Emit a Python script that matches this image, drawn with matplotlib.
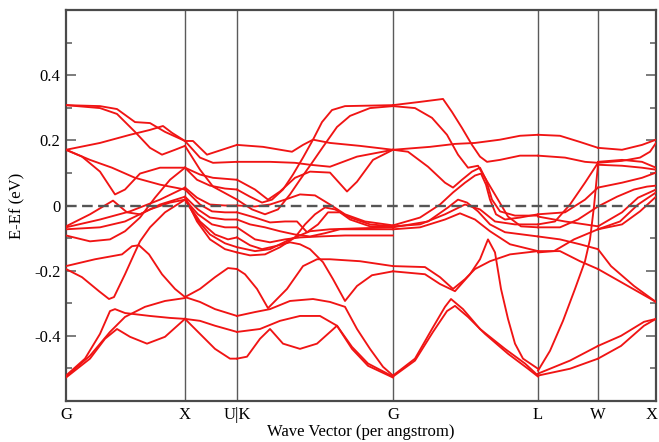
import matplotlib
matplotlib.use("Agg")
import matplotlib.pyplot as plt
from matplotlib.transforms import ScaledTranslation

# ---------------- data ----------------
kpoint_labels = ["G", "X", "U|K", "G", "L", "W", "X"]
kpoint_pos = [0.0, 1.19, 1.71, 3.27, 4.72, 5.32, 5.90]
y_ticks = [-0.4, -0.2, 0.0, 0.2, 0.4]
y_tick_labels = ["-0.4", "-0.2", "0", "0.2", "0.4"]
y_minor = [-0.5, -0.3, -0.1, 0.1, 0.3, 0.5]
fermi_level = 0.0

# Each curve: (k values, energies in eV) along one segment of the path
seg_G_X = [
    ([0, .34, .51, .69, .84, .99, 1.19], [.308, .305, .296, .256, .253, .226, .198]),
    ([0, .34, .51, .69, .84, .96, 1.09, 1.19], [.308, .299, .281, .226, .177, .156, .171, .183]),
    ([0, .34, .64, .84, .97, 1.06, 1.19], [.171, .192, .217, .232, .244, .223, .198]),
    ([0, .16, .34, .49, .59, .74, .94, 1.19], [.171, .150, .104, .034, .049, .098, .116, .116]),
    ([0, .24, .46, .69, .94, 1.19], [.171, .140, .116, .085, .064, .049]),
    ([0, .24, .47, .61, .74, .94, 1.19], [-.064, -.027, .015, -.021, -.027, .003, .027]),
    ([0, .34, .64, .94, 1.19], [-.067, -.043, -.018, .018, .055]),
    ([0, .34, .59, .84, 1.04, 1.19], [-.073, -.067, -.049, -.012, .009, .018]),
    ([0, .24, .44, .59, .74, .89, 1.04, 1.19], [-.092, -.110, -.104, -.079, -.037, .024, .079, .116]),
    ([0, .29, .56, .66, .73, .83, .96, 1.09, 1.19], [-.186, -.165, -.150, -.125, -.122, -.150, -.211, -.256, -.281]),
    ([0, .16, .33, .43, .48, .59, .68, .74, .84, .99, 1.19], [-.195, -.220, -.263, -.287, -.281, -.211, -.150, -.110, -.067, -.021, .018]),
    ([0, .19, .34, .44, .49, .59, .84, 1.04, 1.19], [-.522, -.470, -.394, -.324, -.318, -.330, -.339, -.345, -.348]),
    ([0, .24, .44, .59, .79, .99, 1.19], [-.525, -.461, -.388, -.342, -.311, -.293, -.284]),
    ([0, .24, .39, .51, .64, .81, .99, 1.19], [-.528, -.470, -.409, -.379, -.403, -.424, -.403, -.348]),
]

seg_X_UK = [
    ([1.19, 1.27, 1.41, 1.56, 1.71], [.198, .198, .156, .171, .186]),
    ([1.19, 1.34, 1.47, 1.71], [.198, .147, .131, .134]),
    ([1.19, 1.34, 1.47, 1.71], [.183, .110, .058, .018]),
    ([1.19, 1.31, 1.44, 1.59, 1.71], [.116, .079, .061, .052, .049]),
    ([1.19, 1.34, 1.47, 1.71], [.116, .095, .085, .079]),
    ([1.19, 1.31, 1.44, 1.59, 1.71], [.055, .024, .003, 0.0, 0.0]),
    ([1.19, 1.34, 1.46, 1.59, 1.71], [.049, .003, -.018, -.021, -.021]),
    ([1.19, 1.32, 1.44, 1.59, 1.71], [.027, -.012, -.037, -.043, -.043]),
    ([1.19, 1.32, 1.46, 1.59, 1.71], [.018, -.027, -.058, -.067, -.067]),
    ([1.19, 1.34, 1.49, 1.62, 1.71], [.018, -.049, -.089, -.104, -.098]),
    ([1.19, 1.31, 1.44, 1.59, 1.71], [.018, -.043, -.089, -.116, -.128]),
    ([1.19, 1.31, 1.44, 1.59, 1.71], [.027, -.049, -.104, -.134, -.144]),
    ([1.19, 1.34, 1.49, 1.62, 1.71], [-.281, -.256, -.220, -.192, -.195]),
    ([1.19, 1.34, 1.49, 1.71], [-.281, -.296, -.318, -.339]),
    ([1.19, 1.34, 1.49, 1.71], [-.348, -.354, -.369, -.388]),
    ([1.19, 1.34, 1.49, 1.64, 1.71], [-.348, -.394, -.440, -.470, -.470]),
]

seg_K_G = [
    ([1.71, 1.97, 2.26, 2.37, 2.47, 2.64, 2.94, 3.27], [.186, .180, .165, .186, .202, .192, .183, .171]),
    ([1.71, 2.04, 2.29, 2.44, 2.64, 2.91, 3.27], [.134, .134, .131, .125, .119, .150, .171]),
    ([1.71, 1.89, 2.02, 2.14, 2.29, 2.44, 2.64, 2.81, 2.91, 3.07, 3.27],
     [.079, .049, .018, .043, .085, .104, .101, .043, .073, .140, .171]),
    ([1.71, 1.84, 1.96, 2.06, 2.17, 2.27, 2.37, 2.47, 2.56, 2.66, 2.79, 3.27],
     [.049, .027, .009, .018, .049, .095, .147, .202, .256, .293, .305, .308]),
    ([1.71, 1.86, 1.99, 2.12, 2.24, 2.34, 2.46, 2.57, 2.71, 2.84, 3.04, 3.27],
     [.018, -.012, -.027, -.012, .034, .079, .131, .180, .241, .275, .299, .305]),
    ([1.71, 1.89, 2.04, 2.19, 2.34, 2.49, 2.64, 2.79, 2.99, 3.27],
     [0.0, -.003, .003, .018, .034, .031, .003, -.027, -.049, -.061]),
    ([1.71, 1.89, 2.04, 2.19, 2.31, 2.41, 2.52, 2.62, 2.74, 2.84, 3.04, 3.27],
     [-.021, -.037, -.052, -.049, -.049, -.082, -.058, -.021, -.021, -.043, -.064, -.067]),
    ([1.71, 1.84, 1.99, 2.14, 2.29, 2.44, 2.59, 2.74, 2.94, 3.27],
     [-.043, -.058, -.067, -.079, -.089, -.095, -.085, -.073, -.073, -.073]),
    ([1.71, 1.89, 2.04, 2.19, 2.34, 2.54, 2.79, 3.04, 3.27],
     [-.067, -.104, -.113, -.104, -.098, -.095, -.092, -.092, -.092]),
    ([1.71, 1.84, 1.96, 2.09, 2.24, 2.34, 2.44, 2.57, 2.67, 2.79, 2.91, 3.06, 3.27],
     [-.098, -.122, -.134, -.125, -.113, -.119, -.134, -.174, -.226, -.293, -.247, -.214, -.202]),
    ([1.71, 1.89, 2.04, 2.24, 2.44, 2.64, 2.94, 3.27], [-.128, -.140, -.134, -.104, -.079, -.073, -.070, -.067]),
    ([1.71, 1.84, 1.99, 2.14, 2.29, 2.39, 2.49, 2.59, 2.69, 2.84, 3.04, 3.27],
     [-.144, -.153, -.150, -.128, -.098, -.058, -.027, -.006, -.012, -.037, -.058, -.064]),
    ([1.71, 1.79, 1.91, 2.02, 2.21, 2.37, 2.51, 2.64, 2.94, 3.27],
     [-.195, -.211, -.256, -.315, -.256, -.186, -.165, -.165, -.171, -.186]),
    ([1.71, 1.89, 2.04, 2.24, 2.47, 2.64, 2.79, 2.91, 3.04, 3.17, 3.27],
     [-.339, -.327, -.318, -.293, -.287, -.296, -.311, -.379, -.440, -.495, -.522]),
    ([1.71, 1.94, 2.14, 2.34, 2.54, 2.71, 2.86, 3.02, 3.27],
     [-.388, -.379, -.354, -.339, -.339, -.369, -.434, -.485, -.525]),
    ([1.71, 1.81, 1.94, 2.04, 2.17, 2.34, 2.51, 2.71, 2.86, 3.02, 3.27],
     [-.470, -.464, -.409, -.379, -.424, -.440, -.424, -.369, -.440, -.492, -.528]),
]

seg_G_L = [
    ([3.27, 3.54, 3.77, 3.86, 3.96, 4.06, 4.14, 4.21, 4.34, 4.54, 4.72],
     [.308, .318, .327, .287, .238, .186, .150, .134, .140, .153, .153]),
    ([3.27, 3.49, 3.66, 3.81, 3.92, 4.02, 4.12, 4.19, 4.32, 4.42, 4.55, 4.72],
     [.305, .299, .269, .217, .156, .116, .122, .085, .018, -.034, -.064, -.067]),
    ([3.27, 3.64, 3.89, 4.09, 4.34, 4.54, 4.72], [.171, .180, .189, .192, .202, .214, .217]),
    ([3.27, 3.42, 3.62, 3.79, 3.87, 3.96, 4.06, 4.14, 4.20, 4.26, 4.34, 4.49, 4.72],
     [.171, .165, .119, .070, .055, .079, .104, .116, .079, .018, -.018, -.031, -.031]),
    ([3.27, 3.54, 3.74, 3.87, 3.99, 4.09, 4.15, 4.20, 4.24, 4.30, 4.39, 4.54, 4.72],
     [-.061, -.037, .003, .040, .070, .092, .098, .064, .018, -.027, -.043, -.037, -.027]),
    ([3.27, 3.62, 3.82, 3.92, 4.01, 4.12, 4.24, 4.39, 4.72],
     [-.067, -.049, -.006, .018, .009, -.018, -.058, -.082, -.095]),
    ([3.27, 3.54, 3.79, 3.94, 4.09, 4.24, 4.44, 4.72],
     [-.073, -.067, -.043, -.024, -.043, -.079, -.119, -.140]),
    ([3.27, 3.54, 3.79, 3.99, 4.14, 4.29, 4.49, 4.72],
     [-.064, -.058, -.027, .003, -.012, -.049, -.058, -.058]),
    ([3.27, 3.59, 3.74, 3.87, 3.99, 4.09, 4.24, 4.44, 4.72],
     [-.186, -.189, -.220, -.256, -.226, -.195, -.171, -.150, -.140]),
    ([3.27, 3.59, 3.74, 3.89, 4.04, 4.14, 4.22, 4.29, 4.35, 4.42, 4.49, 4.57, 4.72],
     [-.202, -.211, -.241, -.263, -.211, -.165, -.104, -.144, -.256, -.348, -.424, -.470, -.501]),
    ([3.27, 3.49, 3.66, 3.79, 3.85, 3.97, 4.14, 4.39, 4.59, 4.72],
     [-.522, -.470, -.379, -.311, -.287, -.318, -.379, -.440, -.485, -.522]),
    ([3.27, 3.49, 3.67, 3.81, 3.89, 4.02, 4.19, 4.42, 4.62, 4.72],
     [-.525, -.476, -.388, -.324, -.308, -.342, -.394, -.455, -.501, -.525]),
]

seg_L_W = [
    ([4.72, 4.94, 5.14, 5.32], [.217, .214, .195, .177]),
    ([4.72, 4.99, 5.19, 5.32], [.153, .147, .134, .131]),
    ([4.72, 4.84, 4.97, 5.09, 5.19, 5.24, 5.28, 5.32], [-.507, -.446, -.354, -.256, -.171, -.104, -.003, .125]),
    ([4.72, 4.99, 5.19, 5.32], [-.027, -.021, .018, .055]),
    ([4.72, 4.99, 5.19, 5.32], [-.034, -.049, -.058, -.064]),
    ([4.72, 4.94, 5.12, 5.32], [-.067, -.067, -.043, -.003]),
    ([4.72, 4.89, 5.04, 5.19, 5.32], [-.058, -.049, .003, .070, .131]),
    ([4.72, 4.94, 5.14, 5.32], [-.095, -.104, -.119, -.134]),
    ([4.72, 4.88, 5.08, 5.32], [-.144, -.140, -.104, -.073]),
    ([4.72, 4.94, 5.14, 5.32], [-.140, -.140, -.171, -.195]),
    ([4.72, 5.04, 5.32], [-.522, -.501, -.470]),
    ([4.72, 5.04, 5.32], [-.516, -.476, -.431]),
]

seg_W_X = [
    ([5.32, 5.56, 5.76, 5.90], [.177, .171, .186, .202]),
    ([5.32, 5.56, 5.74, 5.84, 5.90], [.131, .137, .147, .165, .192]),
    ([5.32, 5.56, 5.76, 5.90], [.134, .140, .134, .116]),
    ([5.32, 5.56, 5.76, 5.90], [.125, .122, .116, .110]),
    ([5.32, 5.56, 5.76, 5.90], [.055, .070, .085, .101]),
    ([5.32, 5.51, 5.68, 5.81, 5.90], [-.003, .027, .049, .058, .061]),
    ([5.32, 5.56, 5.72, 5.90], [-.064, -.021, .024, .049]),
    ([5.32, 5.54, 5.72, 5.90], [-.073, -.049, .003, .040]),
    ([5.32, 5.56, 5.74, 5.90], [-.073, -.058, -.018, .027]),
    ([5.32, 5.45, 5.68, 5.90], [-.134, -.186, -.247, -.296]),
    ([5.32, 5.55, 5.90], [-.195, -.235, -.296]),
    ([5.32, 5.55, 5.78, 5.90], [-.431, -.400, -.357, -.348]),
    ([5.32, 5.55, 5.78, 5.90], [-.470, -.431, -.369, -.348]),
]

# ---------------- plot ----------------
serif = ["Liberation Serif", "DejaVu Serif"]
fig = plt.figure(figsize=(6.59, 4.42), dpi=100)
ax = fig.add_axes([66 / 659, 41 / 442, 590 / 659, 391 / 442])

band_color = "#f01414"
for seg in (seg_G_X, seg_X_UK, seg_K_G, seg_G_L, seg_L_W, seg_W_X):
    for k, e in seg:
        ax.plot(k, e, color=band_color, lw=1.35, solid_joinstyle="round", zorder=3)

for xp in kpoint_pos[1:-1]:
    ax.axvline(xp, color="#5a5a5a", lw=1.0, zorder=1)

ax.axhline(fermi_level, color="#555555", lw=1.7, dashes=(4.5, 2.3), zorder=4)

ax.set_xlim(kpoint_pos[0], kpoint_pos[-1])
ax.set_ylim(-0.6, 0.6)
ax.set_xticks(kpoint_pos)
ax.set_xticklabels(kpoint_labels, fontfamily=serif, fontsize=12)
ax.set_yticks(y_ticks)
ax.set_yticklabels(y_tick_labels, fontfamily=serif, fontsize=12)
ax.set_yticks(y_minor, minor=True)
ax.tick_params(axis="x", length=0, pad=4)
ax.tick_params(axis="y", which="major", direction="in", length=7, width=1.2,
               color="#666666", left=True, right=True, pad=4)
ax.tick_params(axis="y", which="minor", direction="in", length=4, width=1.2,
               color="#666666", left=True, right=True)
for sp in ax.spines.values():
    sp.set_color("#4a4a4a")
    sp.set_linewidth(1.6)

# keep the last "X" label inside the canvas
last = ax.get_xticklabels()[-1]
last.set_transform(last.get_transform() + ScaledTranslation(-4 / 100, 0, fig.dpi_scale_trans))

ax.set_xlabel("Wave Vector (per angstrom)", fontfamily=serif, fontsize=12, labelpad=1)
ax.set_ylabel("E-Ef (eV)", fontfamily=serif, fontsize=12, labelpad=6)

fig.savefig("out.png", dpi=100)
